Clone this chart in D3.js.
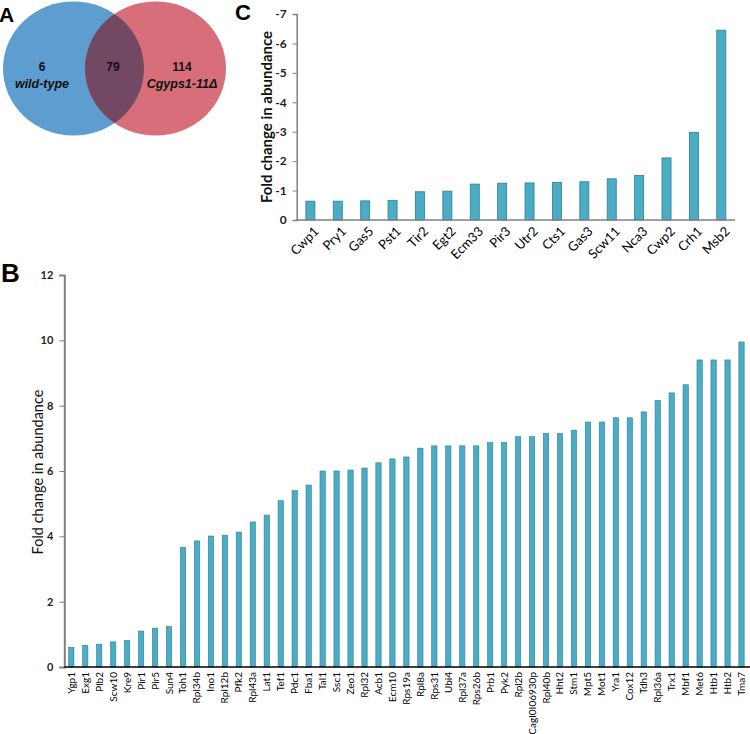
<!DOCTYPE html>
<html>
<head>
<meta charset="utf-8">
<script src="https://cdn.jsdelivr.net/npm/d3@7"></script>
<style>
  html, body { margin: 0; padding: 0; background: #fff; }
  svg { display: block; }
  text { font-family: Lato, "Open Sans", sans-serif; }
</style>
</head>
<body>
<svg id="chart" width="750" height="734"></svg>
<script>
// ---- Panel A: Venn counts ----
const vennSets = ["wild-type", "Cgyps1-11Δ"];
const vennCounts = [6, 79, 114]; // only WT, shared, only mutant

// ---- Panel B: up-regulated proteins ----
const upGenes = ["Ygp1","Exg1","Plb2","Scw10","Kre9","Pir1","Pir5","Sun4","Toh1","Rpl34b",
  "Ino1","Rpl12b","Pfk2","Rpl43a","Lat1","Tef1","Pdc1","Fba1","Tal1","Ssc1",
  "Zeo1","Rpl32","Acb1","Ecm10","Rps19a","Rpl8a","Rps31","Ubi4","Rpl37a","Rps26b",
  "Prb1","Pyk2","Rpl2b","CagI0I06930p","Rpl40b","Hht2","Stm1","Mpt5","Mot1","Yra1",
  "Cox12","Tdh3","Rpl36a","Trx1","Mbf1","Met6","Htb1","Htb2","Tma7"];
const upValues = [0.60,0.66,0.70,0.77,0.81,1.10,1.19,1.24,3.66,3.86,
  4.01,4.03,4.13,4.44,4.65,5.09,5.40,5.57,6.00,6.00,
  6.03,6.09,6.25,6.37,6.43,6.70,6.77,6.77,6.77,6.77,
  6.87,6.87,7.05,7.05,7.15,7.15,7.25,7.50,7.50,7.63,
  7.63,7.81,8.16,8.39,8.64,9.40,9.40,9.40,9.95];
const upTicks = [0, 2, 4, 6, 8, 10, 12];

// ---- Panel C: down-regulated proteins ----
const downGenes = ["Cwp1","Pry1","Gas5","Pst1","Tir2","Egt2","Ecm33","Pir3","Utr2","Cts1",
  "Gas3","Scw11","Nca3","Cwp2","Crh1","Msb2"];
const downValues = [-0.64,-0.64,-0.65,-0.67,-0.96,-0.98,-1.22,-1.25,-1.26,-1.28,
  -1.30,-1.40,-1.51,-2.11,-2.98,-6.45];
const downTicks = [0, -1, -2, -3, -4, -5, -6, -7];

const yLabel = "Fold change in abundance";

const svg = d3.select("#chart");
const barFill = "#4bacc6", barStroke = "#2e7d91";

// ================= Panel A =================
const gA = svg.append("g");
const blueC = {cx: 73.5, cy: 68.5, rx: 70.5, ry: 67};
const redC  = {cx: 155.5, cy: 68.5, rx: 70.5, ry: 67};
const defs = svg.append("defs");
defs.append("clipPath").attr("id", "clipBlue")
  .append("ellipse").attr("cx", blueC.cx).attr("cy", blueC.cy).attr("rx", blueC.rx).attr("ry", blueC.ry);
gA.append("ellipse").attr("cx", blueC.cx).attr("cy", blueC.cy).attr("rx", blueC.rx).attr("ry", blueC.ry)
  .attr("fill", "#5e9dd0");
gA.append("ellipse").attr("cx", redC.cx).attr("cy", redC.cy).attr("rx", redC.rx).attr("ry", redC.ry)
  .attr("fill", "#d76e79");
gA.append("ellipse").attr("cx", redC.cx).attr("cy", redC.cy).attr("rx", redC.rx).attr("ry", redC.ry)
  .attr("clip-path", "url(#clipBlue)").attr("fill", "#724862");
const vennFont = "'Liberation Sans', Arial, sans-serif";
const vennPos = [42, 113, 182];
vennCounts.forEach((c, i) => {
  gA.append("text").attr("x", vennPos[i]).attr("y", 71).attr("text-anchor", "middle")
    .style("font-family", vennFont).style("font-weight", "bold").style("font-size", "12px")
    .attr("fill", "#111").text(c);
});
[0, 2].forEach((pi, k) => {
  gA.append("text").attr("x", vennPos[pi]).attr("y", 88).attr("text-anchor", "middle")
    .style("font-family", vennFont).style("font-weight", "bold").style("font-style", "italic")
    .style("font-size", "12.5px").attr("fill", "#111").text(vennSets[k]);
});

// Panel letters
const letter = (t, x, y, s) => svg.append("text").attr("x", x).attr("y", y)
  .style("font-family", "'Liberation Sans', Arial, sans-serif").style("font-weight", "bold")
  .style("font-size", s + "px").attr("fill", "#000").text(t);
letter("A", -1, 22, 21);
letter("C", 235, 20, 22);
letter("B", 1, 282, 26);

// ================= Panel C =================
const cLeft = 296.7, cRight = 735, cTop = 14, cBottom = 220;
const xC = d3.scaleBand().domain(downGenes).range([cLeft, cRight]).paddingInner(0.67).paddingOuter(0.335);
const yC = d3.scaleLinear().domain([0, -7]).range([cBottom, cTop]);
const gC = svg.append("g");
gC.selectAll("rect.bar").data(downValues).join("rect").attr("class", "bar")
  .attr("x", (d, i) => xC(downGenes[i]))
  .attr("y", d => yC(d))
  .attr("width", xC.bandwidth())
  .attr("height", d => yC(0) - yC(d))
  .attr("fill", barFill).attr("stroke", barStroke).attr("stroke-width", 0.8);
const yAxC = gC.append("g").attr("transform", `translate(${cLeft},0)`)
  .call(d3.axisLeft(yC).tickValues(downTicks).tickFormat(d => String(d)).tickSize(4).tickPadding(6));
yAxC.select(".domain").attr("stroke", "#7f7f7f").attr("stroke-width", 1.5);
yAxC.selectAll(".tick line").attr("stroke", "#7f7f7f");
yAxC.selectAll(".tick text").style("font-size", "12px").style("font-weight", "bold").attr("fill", "#222")
  .style("font-family", "Lato, sans-serif");
gC.append("line").attr("x1", cLeft).attr("x2", cRight).attr("y1", cBottom).attr("y2", cBottom)
  .attr("stroke", "#7f7f7f").attr("stroke-width", 1.5);
const c45 = Math.SQRT1_2;
gC.selectAll("text.xl").data(downGenes).join("text").attr("class", "xl")
  .attr("transform", d => `matrix(${c45},${-c45},${c45},${c45},${xC(d) + xC.bandwidth() / 2 + 6},${cBottom + 9})`)
  .attr("text-anchor", "end").attr("dy", "0.35em")
  .style("font-size", "13px").attr("fill", "#000").text(d => d);
gC.append("text").attr("transform", `translate(272,117) rotate(-90)`).attr("text-anchor", "middle")
  .style("font-size", "15px").style("font-weight", "bold").attr("fill", "#111").text(yLabel);

// ================= Panel B =================
const bLeft = 64.3, bRight = 748.5, bTop = 275, bBottom = 667;
const xB = d3.scaleBand().domain(upGenes).range([bLeft, bRight]).paddingInner(0.62).paddingOuter(0.31);
const yB = d3.scaleLinear().domain([0, 12]).range([bBottom, bTop]);
const gB = svg.append("g");
gB.selectAll("rect.bar").data(upValues).join("rect").attr("class", "bar")
  .attr("x", (d, i) => xB(upGenes[i]))
  .attr("y", d => yB(d))
  .attr("width", xB.bandwidth())
  .attr("height", d => yB(0) - yB(d))
  .attr("fill", barFill).attr("stroke", barStroke).attr("stroke-width", 0.6);
const yAxB = gB.append("g").attr("transform", `translate(${bLeft},0)`)
  .call(d3.axisLeft(yB).tickValues(upTicks).tickFormat(d3.format("d")).tickSize(5).tickPadding(6));
yAxB.select(".domain").attr("stroke", "#7f7f7f").attr("stroke-width", 2);
yAxB.selectAll(".tick line").attr("stroke", "#7f7f7f");
yAxB.selectAll(".tick text").style("font-size", "11px").style("font-weight", "bold").attr("fill", "#222")
  .style("font-family", "Lato, sans-serif");
gB.append("line").attr("x1", bLeft).attr("x2", 750).attr("y1", bBottom).attr("y2", bBottom)
  .attr("stroke", "#000").attr("stroke-width", 1.5);
gB.selectAll("text.xl").data(upGenes).join("text").attr("class", "xl")
  .attr("transform", d => `translate(${xB(d) + xB.bandwidth() / 2},${bBottom + 5}) rotate(-90)`)
  .attr("text-anchor", "end").attr("dy", "0.35em")
  .style("font-size", "10px").attr("fill", "#000").text(d => d);
gB.append("text").attr("transform", `translate(43,472) rotate(-90)`).attr("text-anchor", "middle")
  .style("font-size", "14.5px").attr("fill", "#111").text(yLabel);
</script>
</body>
</html>
